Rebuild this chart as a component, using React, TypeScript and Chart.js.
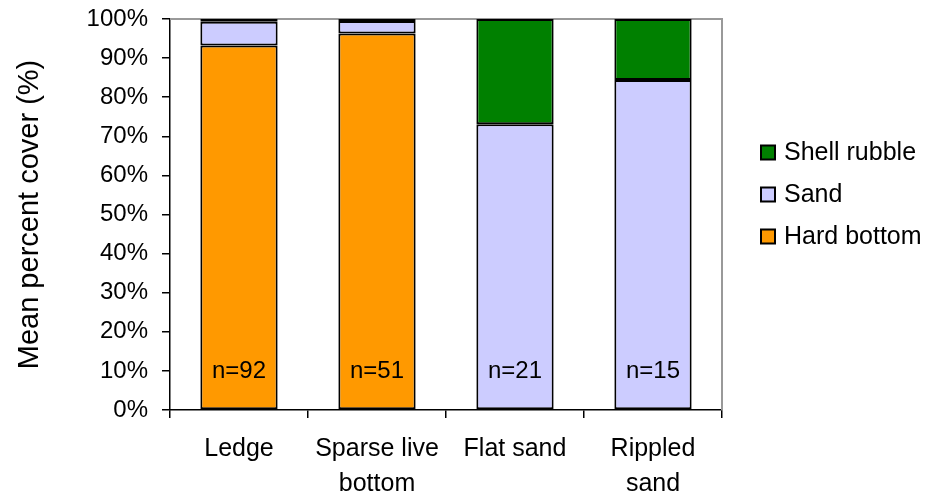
import React, { useEffect, useRef } from 'react';
import { Chart, registerables } from 'chart.js';

Chart.register(...registerables);

const categories: string[][] = [['Ledge'], ['Sparse live', 'bottom'], ['Flat sand'], ['Rippled', 'sand']];
const hardBottom: (number | null)[] = [93.2, 96.3, null, null];
const sand: (number | null)[] = [6.1, 3.2, 73.1, 84.4];
const shellRubble: (number | null)[] = [0.7, 0.5, 26.9, 15.6];
const sampleSizes: string[] = ['n=92', 'n=51', 'n=21', 'n=15'];
const sampleLabelValue = 10;
const yTickValues: number[] = [0, 10, 20, 30, 40, 50, 60, 70, 80, 90, 100];

const FONT = '"Liberation Sans", Arial, sans-serif';

const frameAndLabels = {
  id: 'frameAndLabels',
  beforeDatasetsDraw(chart: any) {
    const { ctx, chartArea } = chart;
    ctx.save();
    ctx.strokeStyle = '#999999';
    ctx.lineWidth = 2;
    ctx.beginPath();
    ctx.moveTo(chartArea.left, chartArea.top);
    ctx.lineTo(chartArea.right, chartArea.top);
    ctx.lineTo(chartArea.right, chartArea.bottom);
    ctx.stroke();
    ctx.restore();
  },
  afterDatasetsDraw(chart: any) {
    const { ctx } = chart;
    const xs = chart.scales.x;
    const ys = chart.scales.y;
    ctx.save();
    ctx.font = `24px ${FONT}`;
    ctx.fillStyle = '#000';
    ctx.textAlign = 'center';
    ctx.textBaseline = 'middle';
    sampleSizes.forEach((t, i) => {
      ctx.fillText(t, xs.getPixelForValue(i), ys.getPixelForValue(sampleLabelValue));
    });
    ctx.restore();
  },
  afterDraw(chart: any) {
    const { ctx } = chart;
    const ds = [...chart.data.datasets].reverse();
    ctx.save();
    ctx.font = `25px ${FONT}`;
    ctx.textBaseline = 'middle';
    ctx.textAlign = 'left';
    ds.forEach((d: any, k: number) => {
      const cy = 152.5 + k * 42;
      ctx.fillStyle = d.backgroundColor;
      ctx.fillRect(761, cy - 7, 14, 14);
      ctx.strokeStyle = '#000';
      ctx.lineWidth = 2;
      ctx.strokeRect(761, cy - 7, 14, 14);
      ctx.fillStyle = '#000';
      ctx.fillText(d.label, 784, cy + 1);
    });
    ctx.restore();
  },
};

export default function App() {
  const ref = useRef<HTMLCanvasElement>(null);
  useEffect(() => {
    document.body.style.margin = '0';
    if (!ref.current) return;
    const chart = new Chart(ref.current, {
      type: 'bar',
      data: {
        labels: categories as any,
        datasets: [
          { label: 'Hard bottom', data: hardBottom, backgroundColor: '#FF9900', borderColor: '#000', borderWidth: 2, borderSkipped: false },
          { label: 'Sand', data: sand, backgroundColor: '#CCCCFF', borderColor: '#000', borderWidth: 2, borderSkipped: false },
          { label: 'Shell rubble', data: shellRubble, backgroundColor: '#008000', borderColor: '#000', borderWidth: 2, borderSkipped: false },
        ] as any,
      },
      options: {
        animation: false,
        responsive: true,
        maintainAspectRatio: false,
        layout: { padding: { top: 19, right: 213, left: 0, bottom: 0 } },
        datasets: { bar: { categoryPercentage: 1, barPercentage: 0.56 } },
        plugins: { legend: { display: false }, tooltip: { enabled: false } },
        scales: {
          x: {
            stacked: true,
            grid: { display: true, drawOnChartArea: false, offset: true, color: '#000', tickLength: 8, lineWidth: 1.5 },
            border: { color: '#000', width: 1.5 },
            ticks: { color: '#000', font: { family: FONT, size: 25, lineHeight: 1.42 }, padding: 13, maxRotation: 0, autoSkip: false },
            afterFit: (s: any) => { s.height = 86; s.paddingLeft = 0; s.paddingRight = 0; },
          },
          y: {
            stacked: true,
            min: 0,
            max: 100,
            afterBuildTicks: (s: any) => { s.ticks = yTickValues.map((v) => ({ value: v })); },
            grid: { display: true, drawOnChartArea: false, color: '#000', tickLength: 8, lineWidth: 1.5 },
            border: { color: '#000', width: 1.5 },
            ticks: { color: '#000', font: { family: FONT, size: 24 }, padding: 14, callback: (v: any) => `${v}%` },
            title: { display: true, text: 'Mean percent cover (%)', color: '#000', font: { family: FONT, size: 29 }, padding: { top: 13, bottom: 0 } },
            afterFit: (s: any) => { s.width = 170; s.paddingTop = 0; s.paddingBottom = 0; },
          },
        },
      },
      plugins: [frameAndLabels],
    });
    return () => chart.destroy();
  }, []);
  return (
    <div style={{ width: 935, height: 496, position: 'relative' }}>
      <canvas ref={ref} />
    </div>
  );
}
